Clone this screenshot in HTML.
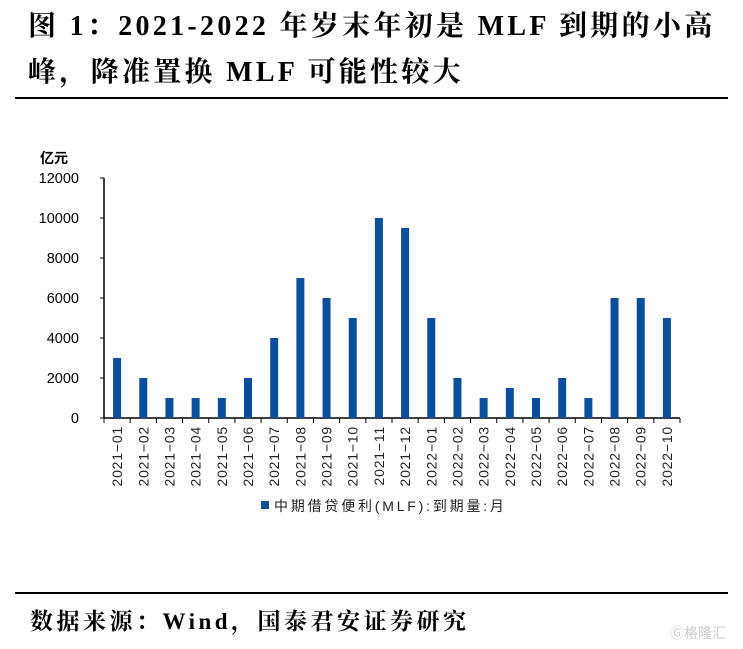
<!DOCTYPE html>
<html><head><meta charset="utf-8"><style>
body{margin:0;background:#fff;width:743px;height:649px;overflow:hidden;position:relative;font-family:"Liberation Serif","Noto Serif CJK SC",serif}
.t{position:absolute;left:28px;font-weight:bold;font-size:28px;color:#000;letter-spacing:3.3px;white-space:nowrap}
.rule{position:absolute;left:15px;width:713px;height:2px;background:#000}
</style></head><body>
<div class="t" style="top:4px">图 1：2021-2022 年岁末年初是 MLF 到期的小高</div>
<div class="t" style="top:50px">峰，降准置换 MLF 可能性较大</div>
<div class="rule" style="top:97px"></div>
<svg id="c" width="743" height="649" style="position:absolute;left:0;top:0" font-family="Liberation Sans, Noto Sans CJK SC, sans-serif"></svg>
<div class="rule" style="top:592px"></div>
<div style="position:absolute;left:30px;top:603px;font-size:23px;font-weight:bold;letter-spacing:3.5px;white-space:nowrap">数据来源：Wind，国泰君安证券研究</div>
<div style="position:absolute;left:670px;top:623px;font-size:14px;color:#ccc;font-family:'Noto Sans CJK SC',sans-serif">Ⓖ格隆汇</div>
<script>
const categories=["2021-01","2021-02","2021-03","2021-04","2021-05","2021-06","2021-07","2021-08","2021-09","2021-10","2021-11","2021-12","2022-01","2022-02","2022-03","2022-04","2022-05","2022-06","2022-07","2022-08","2022-09","2022-10"];
const values=[3000,2000,1000,1000,1000,2000,4000,7000,6000,5000,10000,9500,5000,2000,1000,1500,1000,2000,1000,6000,6000,5000];
const yTicks=[0,2000,4000,6000,8000,10000,12000];
const svg=document.getElementById('c'),NS='http://www.w3.org/2000/svg';
const x0=104,x1=680,y0=418,y1=178,ymax=12000;
const bw=(x1-x0)/categories.length;
const Y=v=>y0-(v/ymax)*(y0-y1);
const X=i=>x0+bw*(i+0.5);
function mk(t,a,p){const e=document.createElementNS(NS,t);for(const k in a)e.setAttribute(k,a[k]);(p||svg).appendChild(e);return e;}
let e;
e=mk('line',{x1:x0,y1:y1,x2:x0,y2:y0,stroke:'#000','stroke-width':1.5});


e=mk('line',{x1:x0,y1:y0,x2:x1,y2:y0,stroke:'#000','stroke-width':1.5});


yTicks.forEach(v=>{
 mk('line',{x1:x0-4,y1:Y(v),x2:x0,y2:Y(v),stroke:'#000'});
 e=mk('text',{x:x0-25,y:Y(v)+5,'text-anchor':'end','font-size':14.5,fill:'#000'});e.textContent=v;
 
 
});
e=mk('text',{x:40,y:163,'font-size':14,fill:'#000','font-weight':'bold'});e.textContent='亿元';


for(let i=0;i<=categories.length;i++)mk('line',{x1:x0+bw*i,y1:y0,x2:x0+bw*i,y2:y0+5,stroke:'#000'});
categories.forEach((c,i)=>{
 e=mk('rect',{x:X(i)-4,y:Y(values[i]),width:8,height:y0-Y(values[i]),fill:'#0a4f9c'});
 
 
 e=mk('text',{x:0,y:0,'text-anchor':'end','font-size':14,'letter-spacing':0.8,fill:'#222',transform:`translate(${X(i)+5},${y0+8}) rotate(-90)`});e.textContent=c.replace('-','−');
 
 
});
e=mk('rect',{x:261,y:501,width:8,height:8,fill:'#0a4f9c'});


e=mk('text',{x:274,y:511,'font-size':14,'letter-spacing':2.8,fill:'#222'});e.textContent='中期借贷便利(MLF):到期量:月';


</script>
</body></html>
